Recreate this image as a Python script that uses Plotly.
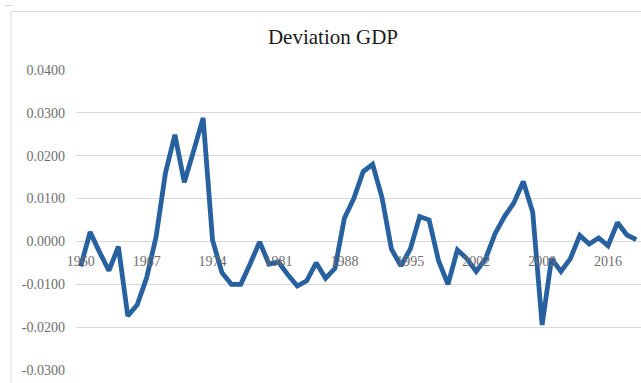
import plotly.graph_objects as go

years = list(range(1960, 2020))
deviation = [
    -0.0058, 0.0022, -0.0025, -0.0068, -0.0012, -0.0174, -0.0148, -0.0085, 0.0010, 0.0160,
    0.0249, 0.0138, 0.0212, 0.0288, 0.0003, -0.0073, -0.0100, -0.0100, -0.0052, -0.0001,
    -0.0053, -0.0048, -0.0078, -0.0104, -0.0092, -0.0050, -0.0086, -0.0063, 0.0054, 0.0100,
    0.0163, 0.0180, 0.0102, -0.0018, -0.0057, -0.0018, 0.0058, 0.0050, -0.0045, -0.0100,
    -0.0020, -0.0040, -0.0070, -0.0040, 0.0018, 0.0058, 0.0090, 0.0140, 0.0068, -0.0195,
    -0.0040, -0.0070, -0.0040, 0.0014, -0.0006, 0.0008, -0.0010, 0.0044, 0.0015, 0.0004,
]
x_ticks = [1960, 1967, 1974, 1981, 1988, 1995, 2002, 2009, 2016]
y_ticks = [-0.03, -0.02, -0.01, 0.0, 0.01, 0.02, 0.03, 0.04]

W, H = 641, 383
ML, MR, MT, MB = 76, 0, 70, 13
plot_w = W - ML - MR
plot_h = H - MT - MB

fig = go.Figure()
fig.add_trace(go.Scatter(
    x=years, y=deviation, mode="lines",
    line=dict(color="#2761A0", width=4.8),
    hoverinfo="skip", showlegend=False,
))

ymin, ymax = -0.03, 0.04
zero_pos = (0 - ymin) / (ymax - ymin)

def px_x(p):
    return (p - ML) / plot_w

def px_y(p):
    return (H - MB - p) / plot_h

serif = "Liberation Serif, Times New Roman, serif"
fig.update_layout(
    width=W, height=H,
    margin=dict(l=ML, r=MR, t=MT, b=MB, pad=0),
    paper_bgcolor="white", plot_bgcolor="white",
    title=dict(text="Deviation GDP", x=333 / W, xref="container", xanchor="center",
               y=1 - 37 / H, yref="container", yanchor="middle",
               font=dict(family=serif, size=21, color="#1a1a1a")),
    xaxis=dict(
        range=[1959.5, 2019.5], tickvals=x_ticks, ticktext=[str(v) for v in x_ticks],
        showgrid=False, zeroline=False, showline=False, ticks="",
        anchor="free", position=zero_pos, ticklabelstandoff=10,
        tickfont=dict(family=serif, size=14, color="#6e6e6e"),
    ),
    yaxis=dict(
        range=[ymin, ymax], tickvals=y_ticks, ticktext=[f"{v:.4f}" for v in y_ticks],
        showgrid=True, gridcolor="#D9D9D9", gridwidth=1, zeroline=False, showline=False,
        ticks="", ticklabelstandoff=10,
        tickfont=dict(family=serif, size=14, color="#6e6e6e"),
    ),
    shapes=[
        dict(type="rect", xref="paper", yref="paper",
             x0=px_x(11), x1=1.05, y0=-0.2, y1=px_y(11.5),
             line=dict(color="#D9D9D9", width=1), fillcolor="rgba(0,0,0,0)", layer="below"),
        dict(type="line", xref="paper", yref="paper",
             x0=px_x(5), x1=px_x(12), y0=px_y(5.5), y1=px_y(5.5),
             line=dict(color="#D0D0D0", width=1), layer="below"),
    ],
)

fig.write_html("out.html")
